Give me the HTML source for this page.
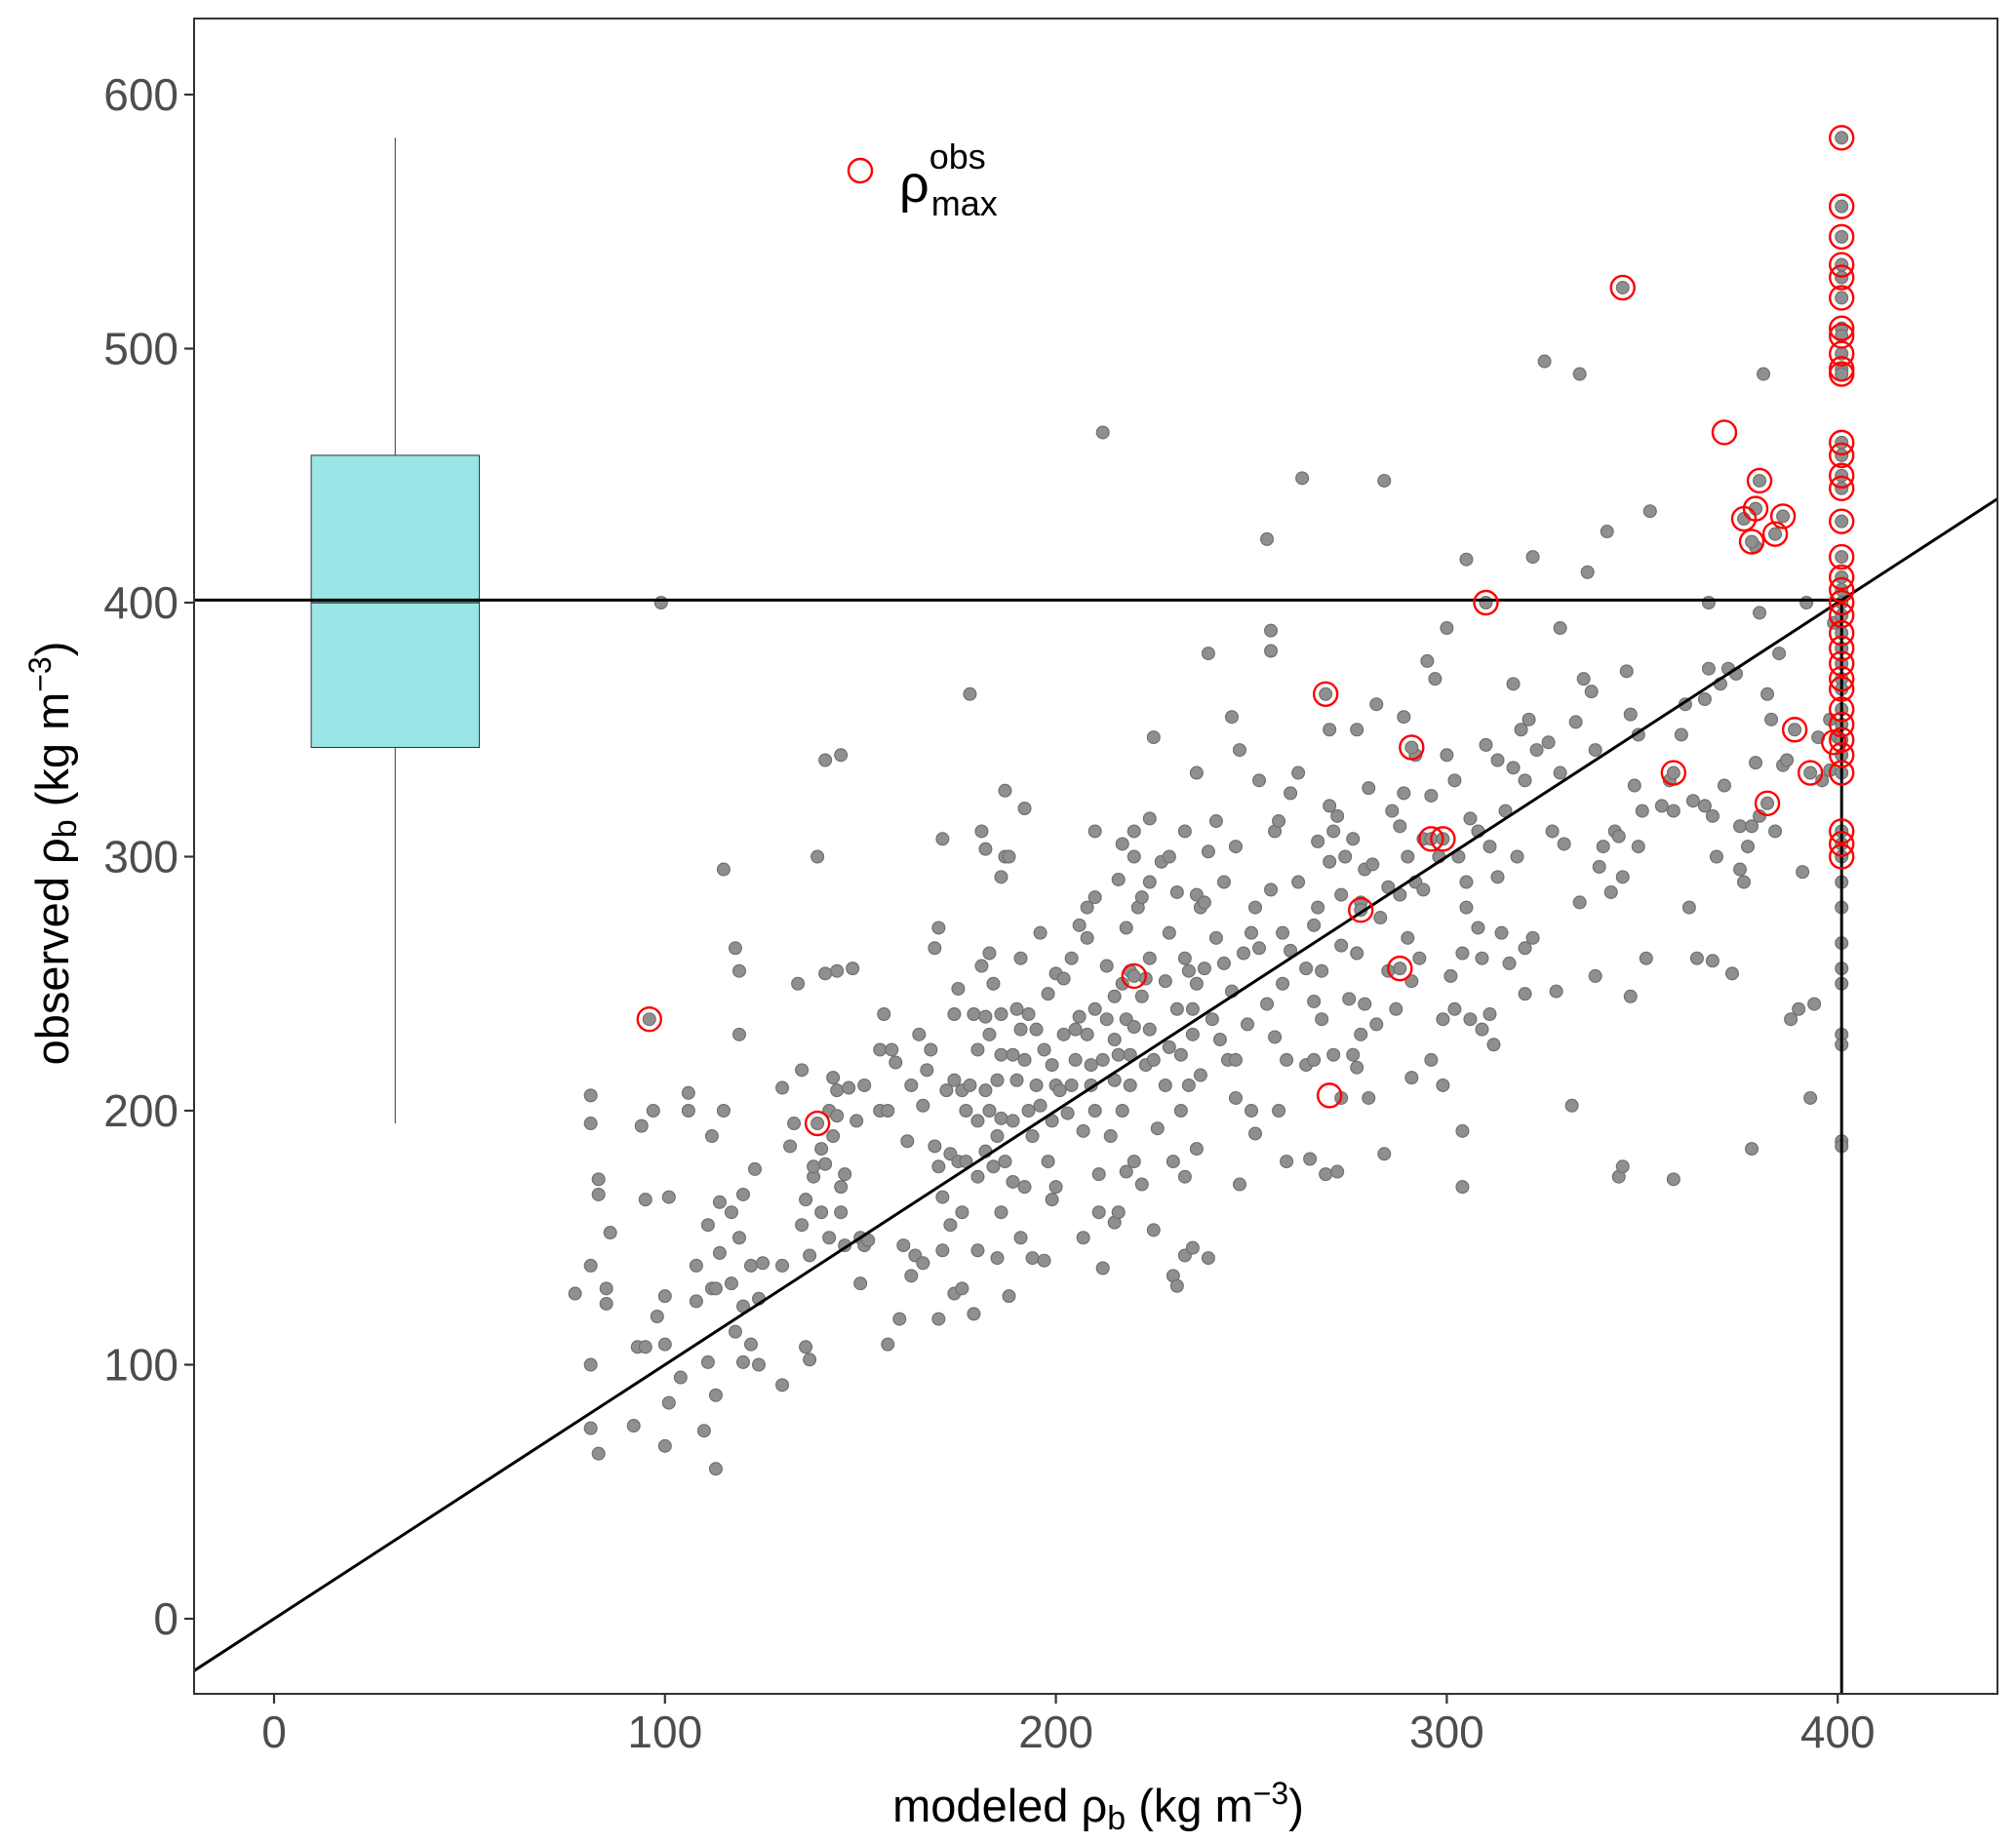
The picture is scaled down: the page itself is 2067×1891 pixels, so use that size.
<!DOCTYPE html>
<html><head><meta charset="utf-8"><style>
html,body{margin:0;padding:0;background:#fff;}
svg{display:block;font-family:"Liberation Sans",sans-serif;}
</style></head><body>
<svg id="chart" width="2067" height="1891" viewBox="0 0 2067 1891" xmlns="http://www.w3.org/2000/svg">
<defs><clipPath id="pc"><rect x="199" y="19" width="1849" height="1718"/></clipPath></defs>
<rect x="0" y="0" width="2067" height="1891" fill="#fff"/>
<g id="plot" clip-path="url(#pc)"></g>
<rect x="199" y="19" width="1849" height="1718" fill="none" stroke="#333" stroke-width="2"/>
<g id="axes"></g>
<text x="1126" y="1868" text-anchor="middle" font-size="47" fill="#000">modeled ρ<tspan font-size="34" dy="8">b</tspan><tspan dy="-8"> (kg m</tspan><tspan font-size="32" dy="-18">−3</tspan><tspan dy="18">)</tspan></text>
<text transform="translate(70,875) rotate(-90)" text-anchor="middle" font-size="47" fill="#000">observed ρ<tspan font-size="34" dy="8">b</tspan><tspan dy="-8"> (kg m</tspan><tspan font-size="32" dy="-18">−3</tspan><tspan dy="18">)</tspan></text>
<g>
<circle cx="882" cy="175" r="12" fill="none" stroke="#ff0000" stroke-width="2.4"/>
<text x="922" y="207" font-size="54" fill="#000">ρ<tspan font-size="36" dy="-34">obs</tspan><tspan font-size="36" dx="-56" dy="48">max</tspan></text>
</g>
</svg>
<script>
const xTicks=[0,100,200,300,400];
const yTicks=[0,100,200,300,400,500,600];
const boxStats={xPos:31,whiskerLow:195,q1:343,median:400,q3:458,whiskerHigh:583,halfWidth:21.5};
const rhoMax=401;
const grayX=[77,81,81,81,81,81,83,83,83,85,85,86,92,93,94,95,95,97,98,99,100,100,100,101,101,104,106,106,108,108,110,111,111,112,112,113,113,113,114,114,115,115,117,117,118,118,119,119,119,120,120,120,122,122,123,124,124,125,130,130,130,132,133,134,135,135,136,136,137,137,138,138,139,140,140,141,141,141,142,142,143,143,144,144,144,145,145,145,146,146,147,148,149,150,150,151,151,
152,155,155,156,157,157,158,159,160,161,162,163,163,164,165,166,166,167,168,169,169,170,170,170,171,171,171,172,173,173,174,174,174,175,175,176,176,176,177,177,178,178,179,179,180,180,180,180,181,181,182,182,182,182,183,183,183,184,184,185,185,185,186,186,186,186,186,187,187,187,188,188,189,189,189,190,190,191,191,191,192,192,192,193,193,194,194,195,195,196,196,197,197,198,198,199,199,199,
200,200,200,201,202,202,203,204,204,205,205,206,206,207,207,208,208,208,209,209,210,210,210,210,211,211,212,212,212,213,213,214,215,215,215,215,216,216,216,217,217,217,218,218,218,219,219,219,220,220,220,220,221,222,222,222,223,223,224,224,224,224,225,225,225,226,227,228,228,229,229,229,230,230,231,231,231,232,232,233,233,233,233,234,234,235,235,235,236,236,236,236,237,237,238,238,239,239,239,240,241,241,242,243,243,244,245,245,246,246,246,247,247,248,249,
250,250,251,251,252,252,254,254,255,255,255,256,256,257,257,258,258,259,259,260,260,262,262,263,264,264,265,266,266,266,267,267,268,268,269,270,270,270,271,271,272,272,273,273,273,274,275,276,276,277,277,277,278,278,279,279,280,280,281,282,282,283,284,284,285,285,286,287,288,288,289,289,290,290,291,291,292,292,293,294,294,295,296,296,297,298,299,299,300,300,
301,302,302,303,304,304,304,305,305,305,306,306,308,308,309,309,310,311,311,312,313,313,314,315,316,317,317,318,319,320,320,320,321,322,322,323,325,326,327,328,329,329,330,332,333,334,334,335,336,337,338,338,339,340,341,342,343,344,344,345,345,346,347,347,348,349,349,350,351,352,355,357,358,358,360,361,362,363,364,366,366,367,367,368,368,369,370,371,372,373,374,375,375,376,377,378,378,379,379,380,380,381,382,383,384,385,386,387,388,390,391,392,393,394,395,396,398,398,399,400,
345,380,379,376,378,384,386,310,269,291,358,382,389,393,296,299,278,288,220,96,139,
401,401,401,401,401,401,401,401,401,401,401,401,401,401,401,401,401,401,401,401,401,401,401,401,401,401,401,401,401,401,401,401,401,401,401,401,401,401,401,401,401,401,401];
const grayY=[128,206,195,139,100,75,65,173,167,130,124,152,76,107,194,107,165,200,119,400,68,108,127,85,166,95,207,200,125,139,74,101,155,190,130,59,130,88,164,144,200,295,132,160,113,264,230,255,150,123,101,167,108,139,177,100,126,140,92,139,209,186,195,250,155,216,107,165,102,143,174,178,300,160,185,338,179,254,200,150,213,190,208,255,198,340,160,170,175,147,209,256,196,150,132,210,147,
149,200,224,238,108,200,224,219,118,147,188,135,210,143,230,202,140,216,224,186,264,178,118,272,145,166,307,208,183,155,128,238,212,248,180,130,208,160,200,180,364,210,238,120,174,196,145,224,310,257,208,237,303,184,262,230,200,250,178,212,190,142,222,238,197,292,160,326,180,300,300,127,222,196,172,212,240,232,150,260,319,220,170,200,238,142,190,210,232,202,270,224,141,180,246,196,218,165,
254,210,170,208,252,230,199,260,210,232,220,273,237,192,150,280,268,230,210,218,284,310,240,200,175,160,467,220,138,236,257,190,245,228,212,156,291,222,160,305,250,200,272,236,176,255,222,210,310,300,233,180,280,284,245,171,218,252,315,290,260,232,347,220,153,193,298,251,210,270,300,225,180,135,286,240,131,222,200,310,260,174,143,255,210,240,230,146,333,285,250,185,280,214,256,282,380,302,142,236,314,268,228,258,290,220,355,247,304,205,220,342,171,262,234,
270,200,280,191,264,330,425,242,389,381,287,310,229,314,200,250,270,220,180,325,263,333,290,449,218,256,181,273,243,220,306,280,255,236,175,320,298,350,310,222,316,176,265,285,205,300,244,307,222,350,262,217,282,230,295,242,327,205,297,360,234,276,448,183,288,255,318,240,312,285,325,355,268,300,251,213,340,290,260,307,287,377,324,220,370,300,236,210,390,340,
253,330,240,300,262,192,170,417,290,280,315,236,310,272,232,260,344,304,238,226,338,292,270,318,258,368,335,300,350,264,246,330,354,418,268,342,495,345,310,247,333,390,305,202,353,490,282,370,412,365,253,342,296,304,428,286,310,308,174,178,292,373,356,245,328,348,304,318,260,436,320,330,173,318,348,360,280,322,260,320,362,400,374,316,259,300,368,328,374,254,372,312,295,290,304,185,312,422,337,396,316,490,364,354,310,380,336,338,236,240,294,400,205,242,347,330,354,334,392,347,
524,448,437,433,424,427,434,400,364,343,333,321,350,333,307,307,279,256,253,236,195,
583,556,544,533,528,520,508,505,498,492,490,463,458,450,445,432,418,410,405,400,395,388,382,376,370,366,358,352,346,340,333,310,305,300,290,280,266,256,250,230,226,188,186];
const redX=[401,401,401,401,401,401,401,401,401,401,401,401,401,401,401,401,401,401,401,401,401,401,401,401,401,401,401,401,401,401,401,401,401,401,345,371,380,379,376,378,384,386,310,269,291,358,382,389,393,399,296,299,278,288,220,270,96,139];
const redY=[583,556,544,533,528,520,508,505,498,492,490,463,458,450,445,432,418,410,405,400,395,388,382,376,370,366,358,352,346,340,333,310,305,300,524,467,448,437,433,424,427,434,400,364,343,333,321,350,333,345,307,307,279,256,253,206,236,195];

const NS='http://www.w3.org/2000/svg';
const X=v=>281+4.008*v;
const Y=v=>1660-2.605*v;
const plot=document.getElementById('plot');
const axes=document.getElementById('axes');
function mk(tag,attrs,parent){const e=document.createElementNS(NS,tag);for(const k in attrs)e.setAttribute(k,attrs[k]);parent.appendChild(e);return e;}

let e=mk('line',{x1:X(boxStats.xPos),x2:X(boxStats.xPos),y1:Y(boxStats.whiskerHigh),y2:Y(boxStats.whiskerLow),stroke:'#333','stroke-width':1},plot);


e=mk('rect',{x:X(boxStats.xPos-boxStats.halfWidth),y:Y(boxStats.q3),width:X(boxStats.xPos+boxStats.halfWidth)-X(boxStats.xPos-boxStats.halfWidth),height:Y(boxStats.q1)-Y(boxStats.q3),fill:'#9ae6e6',stroke:'#333','stroke-width':1},plot);


e=mk('line',{x1:X(boxStats.xPos-boxStats.halfWidth),x2:X(boxStats.xPos+boxStats.halfWidth),y1:Y(boxStats.median),y2:Y(boxStats.median),stroke:'#333','stroke-width':1.5},plot);



for(let i=0;i<grayX.length;i++){
  const c=mk('circle',{cx:X(grayX[i]),cy:Y(grayY[i]),r:6.4,fill:'#8f8f8f',stroke:'#707070','stroke-width':1.2},plot);
  
  
}
e=mk('line',{x1:X(-30),y1:Y(-30),x2:X(450),y2:Y(450),stroke:'#000','stroke-width':3},plot);


e=mk('line',{x1:X(-30),y1:Y(rhoMax),x2:X(rhoMax),y2:Y(rhoMax),stroke:'#000','stroke-width':3},plot);


e=mk('line',{x1:X(rhoMax),y1:Y(rhoMax),x2:X(rhoMax),y2:Y(-40),stroke:'#000','stroke-width':3},plot);


for(let i=0;i<redX.length;i++){
  const c=mk('circle',{cx:X(redX[i]),cy:Y(redY[i]),r:12,fill:'none',stroke:'#ff0000','stroke-width':2.4},plot);
  
  
}
xTicks.forEach(t=>{
  const l=mk('line',{x1:X(t),x2:X(t),y1:1737,y2:1747,stroke:'#333','stroke-width':2.2},axes);
  
  
  const tx=mk('text',{x:X(t),y:1792,'text-anchor':'middle','font-size':46,fill:'#4d4d4d'},axes);
  tx.textContent=t;
  
  
});
yTicks.forEach(t=>{
  const l=mk('line',{x1:189,x2:199,y1:Y(t),y2:Y(t),stroke:'#333','stroke-width':2.2},axes);
  
  
  const tx=mk('text',{x:183,y:Y(t)+16,'text-anchor':'end','font-size':46,fill:'#4d4d4d'},axes);
  tx.textContent=t;
  
  
});
</script>
</body></html>
